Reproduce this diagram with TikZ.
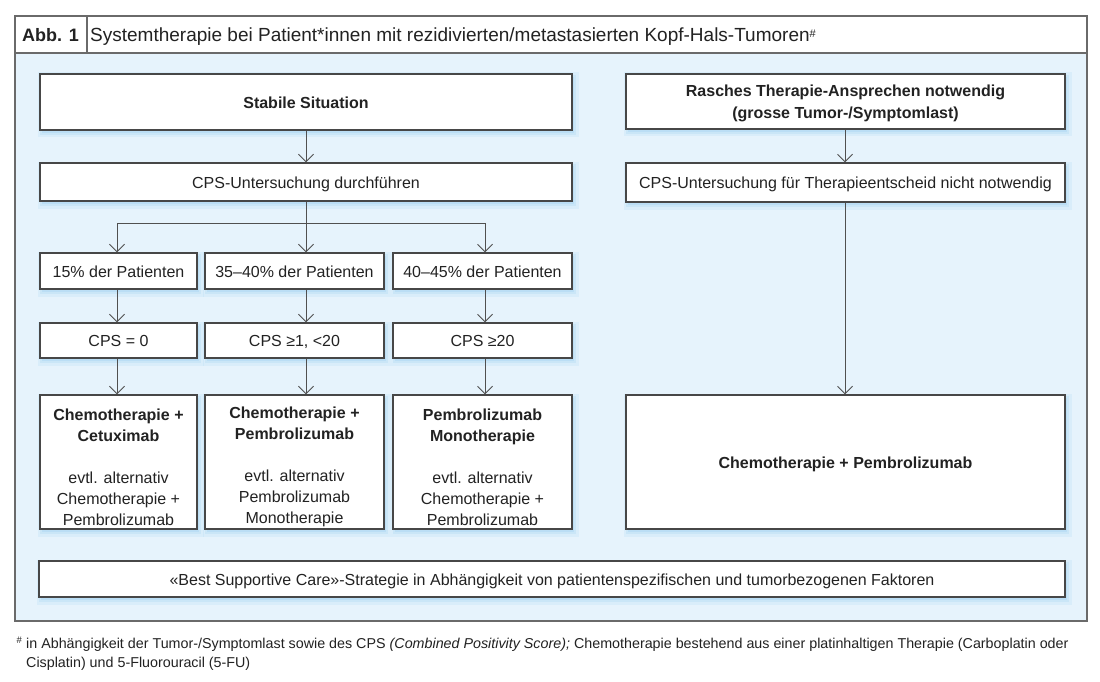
\documentclass[tikz,border=0pt]{standalone}
\usepackage{fontspec}
\setmainfont{Liberation Sans}
\usetikzlibrary{arrows.meta,shadows}
\definecolor{panel}{HTML}{E6F3FC}
\definecolor{shc}{HTML}{A9D6F3}
\definecolor{bord}{HTML}{474747}
\definecolor{frame}{HTML}{6A6A6A}
\definecolor{txt}{HTML}{222222}
\definecolor{ln}{HTML}{505050}
\begin{document}
\begin{tikzpicture}[x=1pt,y=-1pt,
  box/.style={draw=bord, line width=1.1pt, fill=white, text=txt,
    font=\fontsize{16}{21}\selectfont, align=center, inner sep=0pt,
    general shadow={shadow xshift=2pt, shadow yshift=-3pt, draw=shc, fill=shc, line width=9pt, opacity=0.2},
    general shadow={shadow xshift=2pt, shadow yshift=-3pt, draw=shc, fill=shc, line width=4pt, opacity=0.3}},
  one/.style={text height=13pt, text depth=0.6pt},
  lbl/.style={inner sep=0pt, text=txt, align=center, font=\fontsize{16}{21}\selectfont},
  sz/.style n args={2}{minimum width=#1, minimum height=#2},
  arr/.style={draw=ln, line width=1pt, -{Straight Barb[length=7.5pt,width=15pt]}},
  lne/.style={draw=ln, line width=1pt}]
\useasboundingbox (0,0) rectangle (1100,682);
\fill[white] (0,0) rectangle (1100,682);
% frame
\fill[panel] (15,53) rectangle (1087,621);
\fill[white] (15,16) rectangle (1087,53);
\draw[frame, line width=1.2pt] (15,16) rectangle (1087,621);
\draw[frame, line width=1.2pt] (15,53) -- (1087,53);
\draw[frame, line width=1.2pt] (87,16) -- (87,53);
\node[inner sep=0pt, text=txt, font=\fontsize{18}{20}\selectfont\bfseries] (abb) at (50.5,35) {Abb. 1};
\node[inner sep=0pt, anchor=base west, text=txt, font=\fontsize{19}{22}\selectfont] (title) at (90,41.5) {Systemtherapie bei Patient*innen mit rezidivierten/metastasierten Kopf-Hals-Tumoren{\fontsize{11}{11}\selectfont\raisebox{4pt}{\#}}};
% left branch
\node[box, one, sz={532pt}{56pt}] (stab) at (306,102) {\textbf{Stabile Situation}};
\node[box, one, sz={532pt}{38pt}] (cps1) at (306,182) {CPS-Untersuchung durchführen};
\node[box, one, sz={157pt}{36pt}] (p1) at (118.5,271) {15\% der Patienten};
\node[box, one, sz={179pt}{36pt}] (p2) at (294.5,271) {35–40\% der Patienten};
\node[box, one, sz={179pt}{36pt}] (p3) at (482.5,271) {40–45\% der Patienten};
\node[box, one, sz={157pt}{35pt}] (c1) at (118.5,340.5) {CPS = 0};
\node[box, one, sz={179pt}{35pt}] (c2) at (294.5,340.5) {CPS ≥1, <20};
\node[box, one, sz={179pt}{35pt}] (c3) at (482.5,340.5) {CPS ≥20};
\node[box, sz={157pt}{134pt}] (t1) at (118.5,462) {};
\node[box, sz={179pt}{134pt}] (t2) at (294.5,462) {};
\node[box, sz={179pt}{134pt}] (t3) at (482.5,462) {};
\node[lbl] (t1t) at ([yshift=-5pt]t1.center) {\textbf{Chemotherapie +}\\\textbf{Cetuximab}\\[21pt]evtl. alternativ\\Chemotherapie +\\Pembrolizumab};
\node[lbl] (t2t) at ([yshift=-5pt]t2.center) {\textbf{Chemotherapie +}\\\textbf{Pembrolizumab}\\[21pt]evtl. alternativ\\Pembrolizumab\\Monotherapie};
\node[lbl] (t3t) at ([yshift=-5pt]t3.center) {\textbf{Pembrolizumab}\\\textbf{Monotherapie}\\[21pt]evtl. alternativ\\Chemotherapie +\\Pembrolizumab};
% right branch
\node[box, sz={439pt}{55pt}] (ras) at (845.5,101.5) {};
\node[lbl, font=\fontsize{16}{22}\selectfont] (rast) at ([yshift=-2pt]ras.center) {\textbf{Rasches Therapie-Ansprechen notwendig}\\\textbf{(grosse Tumor-/Symptomlast)}};
\node[box, one, sz={439pt}{39pt}] (cps2) at (845.5,182.5) {CPS-Untersuchung für Therapieentscheid nicht notwendig};
\node[box, one, sz={439pt}{134pt}] (big) at (845.5,462) {\textbf{Chemotherapie + Pembrolizumab}};
% bottom
\node[box, one, sz={1026pt}{36pt}] (bsc) at (552,579) {«Best Supportive Care»-Strategie in Abhängigkeit von patientenspezifischen und tumorbezogenen Faktoren};
% connectors
\coordinate (split) at (306,223);
\coordinate (sl) at (117,223);
\coordinate (sr) at (485,223);
\draw[arr] (stab.south -| split) -- (cps1.north -| split);
\draw[lne] (cps1.south -| split) -- (split);
\draw[lne] (sl) -- (sr);
\draw[arr] (sl) -- (p1.north -| sl);
\draw[arr] (split) -- (p2.north -| split);
\draw[arr] (sr) -- (p3.north -| sr);
\draw[arr] (p1.south -| sl) -- (c1.north -| sl);
\draw[arr] (p2.south -| split) -- (c2.north -| split);
\draw[arr] (p3.south -| sr) -- (c3.north -| sr);
\draw[arr] (c1.south -| sl) -- (t1.north -| sl);
\draw[arr] (c2.south -| split) -- (t2.north -| split);
\draw[arr] (c3.south -| sr) -- (t3.north -| sr);
\coordinate (rx) at (845,0);
\draw[arr] (ras.south -| rx) -- (cps2.north -| rx);
\draw[arr] (cps2.south -| rx) -- (big.north -| rx);
% footnote
\node[inner sep=0pt, anchor=base west, text=txt, font=\fontsize{9.5}{10}\selectfont] (hash) at (16.5,643) {\#};
\node[inner sep=0pt, anchor=base west, text=txt, align=left, font=\fontsize{14.3}{19}\selectfont] (fn) at (26,667) {in Abhängigkeit der Tumor-/Symptomlast sowie des CPS \textit{(Combined Positivity Score);} Chemotherapie bestehend aus einer platinhaltigen Therapie (Carboplatin oder\\Cisplatin) und 5-Fluorouracil (5-FU)};
\end{tikzpicture}
\end{document}
